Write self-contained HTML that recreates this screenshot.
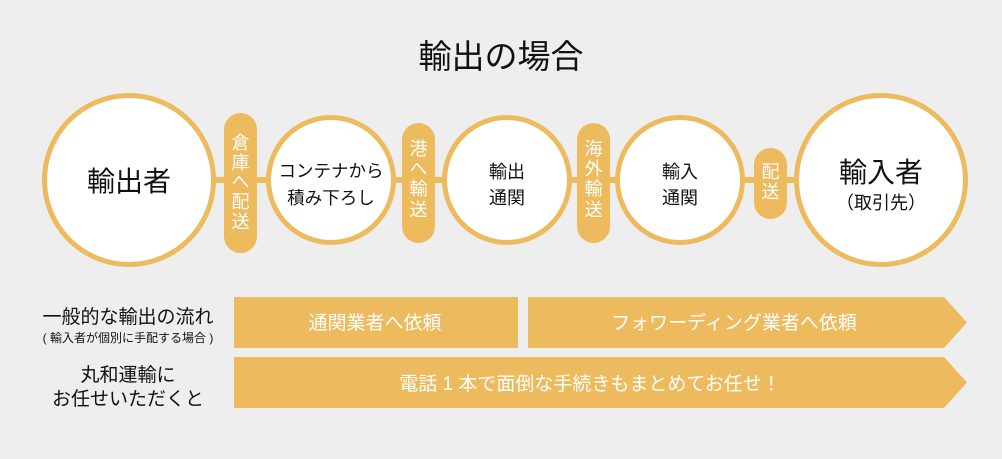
<!DOCTYPE html>
<html><head><meta charset="utf-8"><style>
body{margin:0;background:#efeeef;}
svg{display:block;font-family:"Liberation Sans","Noto Sans CJK JP",sans-serif;}
</style></head><body>
<svg width="1002" height="459" viewBox="0 0 1002 459" xmlns="http://www.w3.org/2000/svg">
<rect width="1002" height="459" fill="#efeeef"/>
<text x="501" y="68" text-anchor="middle" font-size="33" fill="#111">輸出の場合</text>
<rect x="60" y="177" width="890" height="6" fill="#edba5e"/>
<g fill="#fff" stroke="#edba5e" stroke-width="5">
<circle cx="129" cy="180" r="84.5"/>
<circle cx="331" cy="180" r="62.5"/>
<circle cx="507" cy="180" r="62.5"/>
<circle cx="680" cy="180" r="62.5"/>
<circle cx="881" cy="180" r="84.5"/>
</g>
<g fill="#edba5e">
<rect x="224" y="113" width="33" height="140" rx="16.5"/>
<rect x="402" y="123" width="33" height="120" rx="16.5"/>
<rect x="577" y="123" width="33" height="120" rx="16.5"/>
<rect x="754" y="148" width="33" height="71" rx="16.5"/>
</g>
<g fill="#fff" font-size="18" text-anchor="middle">
<text x="240.5" y="149">倉</text><text x="240.5" y="169">庫</text><text x="240.5" y="188">へ</text><text x="240.5" y="208">配</text><text x="240.5" y="228">送</text>
<text x="418.5" y="155">港</text><text x="418.5" y="175">へ</text><text x="418.5" y="195">輸</text><text x="418.5" y="216">送</text>
<text x="593.5" y="155">海</text><text x="593.5" y="175">外</text><text x="593.5" y="195">輸</text><text x="593.5" y="216">送</text>
<text x="770.5" y="178">配</text><text x="770.5" y="198">送</text>
</g>
<g fill="#111" text-anchor="middle">
<text x="129" y="191" font-size="28">輸出者</text>
<text x="331" y="177" font-size="17.5">コンテナから</text>
<text x="331" y="204" font-size="17.5">積み下ろし</text>
<text x="507" y="178" font-size="18">輸出</text>
<text x="507" y="204" font-size="18">通関</text>
<text x="680" y="178" font-size="18">輸入</text>
<text x="680" y="204" font-size="18">通関</text>
<text x="881" y="182" font-size="28">輸入者</text>
<text x="881" y="209" font-size="18">（取引先）</text>
<text x="128" y="323" font-size="19">一般的な輸出の流れ</text>
<text x="128" y="342" font-size="12">( 輸入者が個別に手配する場合 )</text>
<text x="128" y="381" font-size="19">丸和運輸に</text>
<text x="128" y="405" font-size="19">お任せいただくと</text>
</g>
<g fill="#edba5e">
<rect x="234" y="297" width="284" height="51"/>
<polygon points="528,297 944,297 967,322.5 944,348 528,348"/>
<polygon points="234,357 944,357 967,382.5 944,408 234,408"/>
</g>
<g fill="#fff" font-size="19" text-anchor="middle">
<text x="375" y="329">通関業者へ依頼</text>
<text x="734" y="329">フォワーディング業者へ依頼</text>
<text x="590" y="390">電話 1 本で面倒な手続きもまとめてお任せ！</text>
</g>
</svg>
</body></html>
